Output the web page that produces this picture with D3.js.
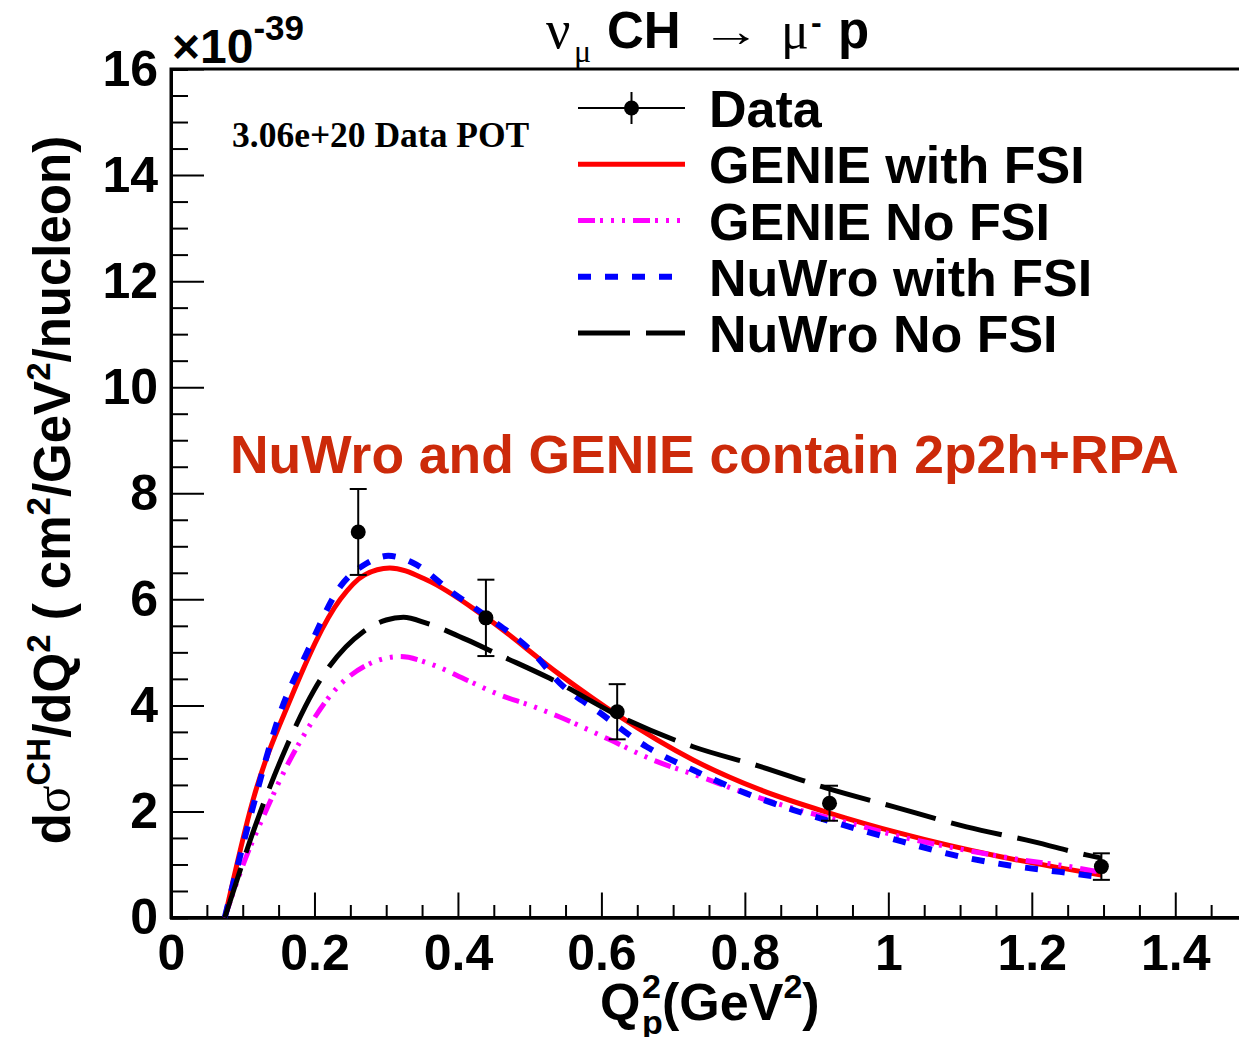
<!DOCTYPE html>
<html>
<head>
<meta charset="utf-8">
<script src="https://cdn.jsdelivr.net/npm/d3@7"></script>
<style>
    body { margin: 0; background: #fff; }
    svg { display: block; }
    text { font-family: "Liberation Sans", Arial, sans-serif; }
</style>
</head>
<body>
<div id="chart"></div>
<script>
// Measured data points (units of 1e-39 cm^2/GeV^2/nucleon)
const dataQ2 = [0.261, 0.439, 0.622, 0.918, 1.297];
const dataXsec = [7.27, 5.65, 3.88, 2.155, 0.96];
const dataErr = [0.81, 0.72, 0.52, 0.33, 0.25];

// GENIE with FSI
const genieFsiQ2 = [0.075, 0.114, 0.166, 0.236, 0.27, 0.305, 0.356, 0.44, 0.542, 0.622, 0.728, 0.821, 0.918, 1.016, 1.155, 1.297];
const genieFsiXsec = [0, 2.2, 4.1, 6.0, 6.46, 6.59, 6.37, 5.65, 4.58, 3.82, 2.97, 2.41, 1.97, 1.59, 1.15, 0.80];

// GENIE No FSI
const genieNoFsiQ2 = [0.075, 0.103, 0.131, 0.1635, 0.184, 0.226, 0.273, 0.319, 0.366, 0.412, 0.458, 0.505, 0.542, 0.612, 0.672, 0.737, 0.802, 0.867, 0.946, 1.025, 1.1, 1.18, 1.257, 1.297];
const genieNoFsiXsec = [0, 1.08, 1.97, 2.91, 3.41, 4.25, 4.76, 4.92, 4.76, 4.48, 4.2, 3.98, 3.78, 3.35, 2.97, 2.66, 2.34, 2.06, 1.78, 1.5, 1.29, 1.10, 0.95, 0.85];

// NuWro with FSI
const nuwroFsiQ2 = [0.075, 0.112, 0.152, 0.189, 0.236, 0.273, 0.303, 0.337, 0.393, 0.44, 0.505, 0.542, 0.598, 0.663, 0.728, 0.802, 0.867, 0.946, 1.02, 1.09, 1.165, 1.239, 1.297];
const nuwroFsiXsec = [0, 1.97, 3.85, 4.98, 6.24, 6.68, 6.82, 6.69, 6.12, 5.68, 4.99, 4.42, 3.86, 3.22, 2.78, 2.34, 2.03, 1.71, 1.43, 1.18, 0.99, 0.86, 0.76];

// NuWro No FSI
const nuwroNoFsiQ2 = [0.075, 0.124, 0.161, 0.2, 0.268, 0.3, 0.324, 0.356, 0.412, 0.458, 0.528, 0.635, 0.728, 0.821, 0.914, 1.007, 1.109, 1.202, 1.276, 1.297];
const nuwroNoFsiXsec = [0, 1.97, 3.22, 4.3, 5.39, 5.61, 5.66, 5.55, 5.24, 4.95, 4.51, 3.73, 3.22, 2.85, 2.44, 2.09, 1.71, 1.43, 1.18, 1.12];

const xMajorTicks = [0, 0.2, 0.4, 0.6, 0.8, 1, 1.2, 1.4];
const yMajorTicks = [0, 2, 4, 6, 8, 10, 12, 14, 16];

const legendLabels = ["Data", "GENIE with FSI", "GENIE No FSI", "NuWro with FSI", "NuWro No FSI"];

class XsecPlot {
    constructor(_config) {
        this.config = {
            parentElement: _config.parentElement,
            width: 1239,
            height: 1037,
            margin: {top: 69, left: 171}
        };
        this.initVis();
    }

    initVis() {
        let vis = this;
        const m = vis.config.margin;

        vis.innerW = 1076;
        vis.innerH = 848.5;

        vis.svg = d3.select(vis.config.parentElement)
            .append('svg')
            .attr('width', vis.config.width)
            .attr('height', vis.config.height);

        vis.chart = vis.svg.append('g')
            .attr('transform', `translate(${m.left},${m.top})`);

        vis.xScale = d3.scaleLinear().domain([0, 1.5]).range([0, vis.innerW]);
        vis.yScale = d3.scaleLinear().domain([0, 16]).range([vis.innerH, 0]);

        // frame (right side falls outside the picture)
        vis.chart.append('rect')
            .attr('width', vis.innerW)
            .attr('height', vis.innerH)
            .attr('fill', 'none')
            .attr('stroke', '#000')
            .attr('stroke-width', 3);

        vis.series = [
            {name: legendLabels[1], q2: genieFsiQ2, xs: genieFsiXsec, color: '#ff0000', dash: null, width: 5},
            {name: legendLabels[2], q2: genieNoFsiQ2, xs: genieNoFsiXsec, color: '#ff00ff', dash: '17,5,3,8,3,8,3,8', width: 5},
            {name: legendLabels[3], q2: nuwroFsiQ2, xs: nuwroFsiXsec, color: '#0000ff', dash: '13,14', width: 6},
            {name: legendLabels[4], q2: nuwroNoFsiQ2, xs: nuwroNoFsiXsec, color: '#000000', dash: '52,16', width: 5}
        ];

        vis.renderAxes();
        vis.renderVis();
        vis.renderLabels();
        vis.renderLegend();
    }

    renderAxes() {
        let vis = this;

        const xMinor = d3.range(0, 31).map(i => i * 0.05).filter(d => Math.abs(d / 0.2 - Math.round(d / 0.2)) > 1e-6);
        const yMinor = d3.range(0, 33).map(i => i * 0.5).filter(d => d % 2 !== 0);

        // minor ticks
        vis.chart.append('g')
            .attr('class', 'x-minor')
            .attr('transform', `translate(0,${vis.innerH})`)
            .call(d3.axisBottom(vis.xScale).tickValues(xMinor).tickSize(-12.5).tickFormat(''));
        vis.chart.append('g')
            .attr('class', 'y-minor')
            .call(d3.axisLeft(vis.yScale).tickValues(yMinor).tickSize(-17).tickFormat(''));

        // major ticks with labels
        vis.xAxisG = vis.chart.append('g')
            .attr('class', 'x-axis')
            .attr('transform', `translate(0,${vis.innerH})`)
            .call(d3.axisBottom(vis.xScale).tickValues(xMajorTicks).tickSize(-25).tickSizeOuter(0)
                .tickPadding(17).tickFormat(d3.format('~g')));
        vis.yAxisG = vis.chart.append('g')
            .attr('class', 'y-axis')
            .call(d3.axisLeft(vis.yScale).tickValues(yMajorTicks).tickSize(-33).tickSizeOuter(0)
                .tickPadding(13).tickFormat(d3.format('d')));

        vis.chart.selectAll('.x-minor, .y-minor, .x-axis, .y-axis').selectAll('line')
            .attr('stroke', '#000').attr('stroke-width', 2);
        vis.chart.selectAll('.x-minor, .y-minor, .x-axis, .y-axis').select('.domain')
            .attr('stroke', '#000').attr('stroke-width', 3);
        vis.chart.selectAll('.x-axis text, .y-axis text')
            .attr('fill', '#000')
            .style('font-size', '50px')
            .style('font-weight', 'bold');
    }

    renderVis() {
        let vis = this;

        const line = d3.line()
            .x(d => vis.xScale(d[0]))
            .y(d => vis.yScale(d[1]))
            .curve(d3.curveMonotoneX);

        vis.chart.selectAll('.model')
            .data(vis.series)
          .join('path')
            .attr('class', 'model')
            .attr('d', s => line(s.q2.map((q, i) => [q, s.xs[i]])))
            .attr('fill', 'none')
            .attr('stroke', s => s.color)
            .attr('stroke-width', s => s.width)
            .attr('stroke-dasharray', s => s.dash);

        const points = dataQ2.map((q, i) => ({q2: q, xs: dataXsec[i], err: dataErr[i]}));

        const bars = vis.chart.selectAll('.errbar')
            .data(points)
          .join('g')
            .attr('class', 'errbar')
            .attr('stroke', '#000')
            .attr('stroke-width', 2);
        bars.append('line')
            .attr('x1', d => vis.xScale(d.q2)).attr('x2', d => vis.xScale(d.q2))
            .attr('y1', d => vis.yScale(d.xs - d.err)).attr('y2', d => vis.yScale(d.xs + d.err));
        bars.append('line')
            .attr('x1', d => vis.xScale(d.q2) - 8.5).attr('x2', d => vis.xScale(d.q2) + 8.5)
            .attr('y1', d => vis.yScale(d.xs + d.err)).attr('y2', d => vis.yScale(d.xs + d.err));
        bars.append('line')
            .attr('x1', d => vis.xScale(d.q2) - 8.5).attr('x2', d => vis.xScale(d.q2) + 8.5)
            .attr('y1', d => vis.yScale(d.xs - d.err)).attr('y2', d => vis.yScale(d.xs - d.err));

        vis.chart.selectAll('.point')
            .data(points)
          .join('circle')
            .attr('class', 'point')
            .attr('cx', d => vis.xScale(d.q2))
            .attr('cy', d => vis.yScale(d.xs))
            .attr('r', 7.5)
            .attr('fill', '#000');
    }

    renderLabels() {
        let vis = this;
        const serif = '"Liberation Serif", "Times New Roman", serif';

        // exponent above the y axis
        const expo = vis.svg.append('text')
            .attr('x', 172).attr('y', 63)
            .style('font-weight', 'bold')
            .style('font-size', '48px');
        expo.append('tspan').text('\u00d710');
        expo.append('tspan').attr('dy', -23).style('font-size', '35px').text('-39');

        // title, pieces placed one by one like the ROOT latex layout
        const t = vis.svg.append('g').attr('class', 'title');
        t.append('text').attr('x', 546).attr('y', 48).style('font-family', serif).style('font-size', '54px').text('\u03bd');
        t.append('text').attr('x', 574).attr('y', 62).style('font-family', serif).style('font-size', '32px').text('\u03bc');
        t.append('text').attr('x', 607).attr('y', 48).style('font-weight', 'bold').style('font-size', '51px').text('CH');
        t.append('text').attr('x', 701).attr('y', 46)
            .attr('textLength', 60).attr('lengthAdjust', 'spacingAndGlyphs')
            .style('font-size', '44px').text('\u2192');
        t.append('text').attr('x', 781).attr('y', 48).style('font-family', serif).style('font-size', '52px').text('\u03bc');
        t.append('text').attr('x', 811).attr('y', 33).style('font-weight', 'bold').style('font-size', '32px').text('-');
        t.append('text').attr('x', 838).attr('y', 48).style('font-weight', 'bold').style('font-size', '51px').text('p');

        // POT note
        vis.svg.append('text')
            .attr('x', 232).attr('y', 147)
            .style('font-family', serif)
            .style('font-weight', 'bold')
            .style('font-size', '35.5px')
            .text('3.06e+20 Data POT');

        // red annotation
        vis.svg.append('text')
            .attr('x', 230).attr('y', 473)
            .attr('fill', '#cc2a0a')
            .style('font-weight', 'bold')
            .style('font-size', '53.4px')
            .text('NuWro and GENIE contain 2p2h+RPA');

        // y axis title
        const yLab = vis.svg.append('text')
            .attr('transform', 'translate(70,490) rotate(-90)')
            .attr('text-anchor', 'middle')
            .style('font-weight', 'bold')
            .style('font-size', '51px');
        yLab.append('tspan').text('d');
        yLab.append('tspan').style('font-family', serif).style('font-weight', 'normal').text('\u03c3');
        yLab.append('tspan').attr('dy', -20).style('font-size', '33px').text('CH');
        yLab.append('tspan').attr('dy', 20).text('/dQ');
        yLab.append('tspan').attr('dy', -20).style('font-size', '33px').text('2');
        yLab.append('tspan').attr('dy', 20).text(' ( cm');
        yLab.append('tspan').attr('dy', -20).style('font-size', '33px').text('2');
        yLab.append('tspan').attr('dy', 20).text('/GeV');
        yLab.append('tspan').attr('dy', -20).style('font-size', '33px').text('2');
        yLab.append('tspan').attr('dy', 20).text('/nucleon)');

        // x axis title: Q with stacked sub/superscript
        const xl = vis.svg.append('g').attr('class', 'x-title').style('font-weight', 'bold');
        xl.append('text').attr('x', 600).attr('y', 1020).style('font-size', '52px').text('Q');
        xl.append('text').attr('x', 642).attr('y', 998).style('font-size', '34px').text('2');
        xl.append('text').attr('x', 642).attr('y', 1034).style('font-size', '34px').text('p');
        const gev = xl.append('text').attr('x', 662).attr('y', 1020).style('font-size', '52px');
        gev.append('tspan').text('(GeV');
        gev.append('tspan').attr('dy', -22).style('font-size', '34px').text('2');
        gev.append('tspan').attr('dy', 22).text(')');
    }

    renderLegend() {
        let vis = this;

        const rowY = d3.scalePoint().domain(legendLabels).range([108, 333]);
        const x0 = 578, x1 = 685;

        const leg = vis.svg.append('g').attr('class', 'legend');

        leg.selectAll('.leg-text')
            .data(legendLabels)
          .join('text')
            .attr('class', 'leg-text')
            .attr('x', 709)
            .attr('y', d => rowY(d) + 19)
            .style('font-weight', 'bold')
            .style('font-size', '52px')
            .text(d => d);

        // data marker
        const yd = rowY(legendLabels[0]);
        leg.append('line').attr('x1', x0).attr('x2', x1).attr('y1', yd).attr('y2', yd)
            .attr('stroke', '#000').attr('stroke-width', 2);
        leg.append('line').attr('x1', (x0 + x1) / 2).attr('x2', (x0 + x1) / 2).attr('y1', yd - 16).attr('y2', yd + 16)
            .attr('stroke', '#000').attr('stroke-width', 2);
        leg.append('circle').attr('cx', (x0 + x1) / 2).attr('cy', yd).attr('r', 7.5).attr('fill', '#000');

        leg.selectAll('.leg-line')
            .data(vis.series)
          .join('line')
            .attr('class', 'leg-line')
            .attr('x1', x0).attr('x2', x1)
            .attr('y1', s => rowY(s.name)).attr('y2', s => rowY(s.name))
            .attr('stroke', s => s.color)
            .attr('stroke-width', s => s.width)
            .attr('stroke-dasharray', s => s.dash);
    }
}

new XsecPlot({parentElement: '#chart'});
</script>
</body>
</html>
